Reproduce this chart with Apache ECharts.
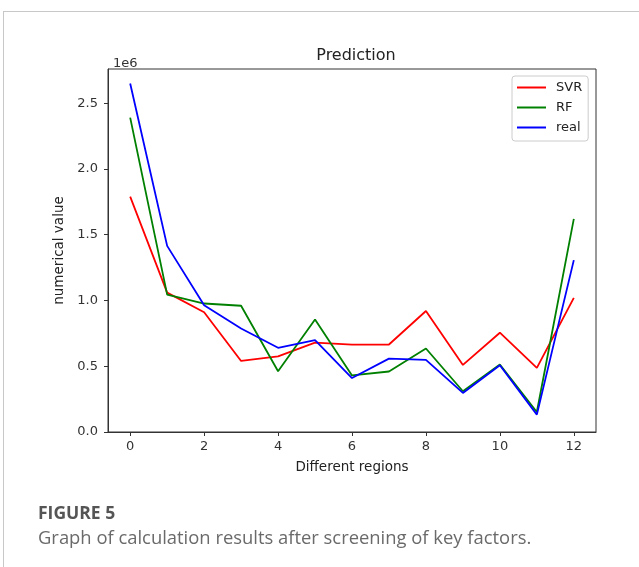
<!DOCTYPE html>
<html>
<head>
<meta charset="utf-8">
<style>
  html, body { margin: 0; padding: 0; background: #fff; }
  #main { width: 639px; height: 567px; }
</style>
<script src="https://cdn.jsdelivr.net/npm/echarts@6/dist/echarts.min.js"></script>
</head>
<body>
<div id="main"></div>
<script>
// regions 0..12
var regions = [0, 1, 2, 3, 4, 5, 6, 7, 8, 9, 10, 11, 12];
var svrVals = [1.79e6, 1.06e6, 0.91e6, 0.54e6, 0.575e6, 0.68e6, 0.665e6, 0.665e6, 0.92e6, 0.51e6, 0.755e6, 0.487e6, 1.02e6];
var rfVals = [2.39e6, 1.045e6, 0.977e6, 0.96e6, 0.462e6, 0.855e6, 0.43e6, 0.46e6, 0.635e6, 0.31e6, 0.513e6, 0.152e6, 1.62e6];
var realVals = [2.65e6, 1.415e6, 0.964e6, 0.787e6, 0.64e6, 0.698e6, 0.41e6, 0.558e6, 0.548e6, 0.297e6, 0.507e6, 0.132e6, 1.307e6];
var xTicks = [0, 2, 4, 6, 8, 10, 12];
var yTicks = [0, 0.5e6, 1.0e6, 1.5e6, 2.0e6, 2.5e6];

function pairs(vals) {
	return regions.map(function(r, i) { return [r, vals[i]]; });
}

var mplFont = 'DejaVu Sans';
var myChart = echarts.init(document.getElementById('main'));

var option = {
	animation: false,
	backgroundColor: '#fff',
	title: [
		{
			text: 'Prediction',
			left: 351, top: 43, textAlign: 'center',
			textStyle: { fontFamily: mplFont, fontSize: 16, fontWeight: 'normal', color: '#222' }
		},
		{
			text: '1e6',
			left: 108, top: 52,
			textStyle: { fontFamily: mplFont, fontSize: 13, fontWeight: 'normal', color: '#333' }
		},
		{
			text: 'FIGURE 5',
			left: 33, top: 500,
			textStyle: { fontFamily: 'Open Sans', fontSize: 17.5, fontWeight: 'bold', color: '#555' }
		},
		{
			text: 'Graph of calculation results after screening of key factors.',
			left: 33, top: 525,
			textStyle: { fontFamily: 'Open Sans', fontSize: 18.4, fontWeight: 'normal', color: '#6a6a6a' }
		}
	],
	legend: {
		data: ['SVR', 'RF', 'real'],
		orient: 'vertical',
		left: 512, top: 76,
		padding: [4, 6, 6, 5],
		itemGap: 5,
		itemWidth: 29,
		itemHeight: 2,
		icon: 'rect',
		borderColor: '#ccc',
		borderWidth: 1,
		borderRadius: 3,
		textStyle: { fontFamily: mplFont, fontSize: 13, color: '#222', padding: [0, 0, 0, 5], lineHeight: 15 }
	},
	grid: {
		left: 108, right: 43, top: 69, bottom: 135,
		show: true,
		borderColor: '#333',
		borderWidth: 1
	},
	xAxis: {
		type: 'value',
		min: -0.6, max: 12.6,
		name: 'Different regions',
		nameLocation: 'middle',
		nameGap: 28,
		nameTextStyle: { fontFamily: mplFont, fontSize: 13.5, color: '#222' },
		splitLine: { show: false },
		axisLine: { show: true, onZero: false, lineStyle: { color: '#333' } },
		axisTick: { show: true, inside: false, length: 4, customValues: xTicks, lineStyle: { color: '#333' } },
		axisLabel: { customValues: xTicks, fontFamily: mplFont, fontSize: 13, color: '#333', margin: 8 }
	},
	yAxis: {
		type: 'value',
		min: 0, max: 2.76e6,
		name: 'numerical value',
		nameLocation: 'middle',
		nameGap: 41,
		nameTextStyle: { fontFamily: mplFont, fontSize: 13.5, color: '#222' },
		splitLine: { show: false },
		axisLine: { show: true, onZero: false, lineStyle: { color: '#333' } },
		axisTick: { show: true, inside: false, length: 4, customValues: yTicks, lineStyle: { color: '#333' } },
		axisLabel: {
			customValues: yTicks, fontFamily: mplFont, fontSize: 13, color: '#333', margin: 10,
			formatter: function(v) { return (v / 1e6).toFixed(1); }
		}
	},
	graphic: [
		{ type: 'line', shape: { x1: 3, y1: 11.5, x2: 639, y2: 11.5 }, style: { stroke: '#c8c8c8', lineWidth: 1 } },
		{ type: 'line', shape: { x1: 3.5, y1: 11, x2: 3.5, y2: 567 }, style: { stroke: '#c8c8c8', lineWidth: 1 } }
	],
	series: [
		{ name: 'SVR', type: 'line', data: pairs(svrVals), showSymbol: false, color: '#ff0000', lineStyle: { width: 1.8 } },
		{ name: 'RF', type: 'line', data: pairs(rfVals), showSymbol: false, color: '#008000', lineStyle: { width: 1.8 } },
		{ name: 'real', type: 'line', data: pairs(realVals), showSymbol: false, color: '#0000ff', lineStyle: { width: 1.8 } }
	]
};

myChart.setOption(option);
</script>
</body>
</html>
